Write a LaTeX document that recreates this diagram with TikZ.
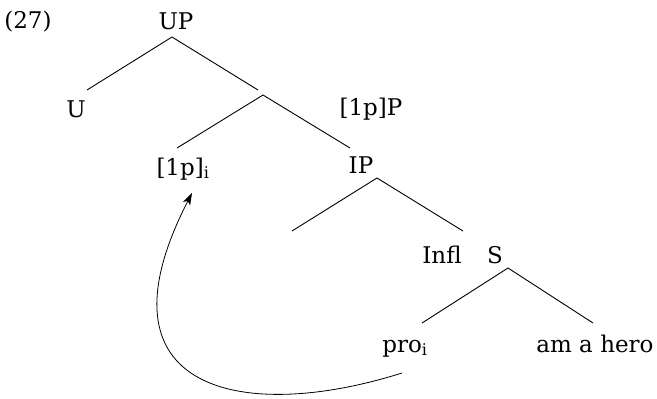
\documentclass[tikz,border=0pt]{standalone}
\usepackage{fontspec}
\setmainfont{DejaVu Serif}
\usetikzlibrary{arrows.meta}

\begin{document}
\begin{tikzpicture}[x=1pt,y=-1pt,>={Stealth[length=12pt,width=8pt,inset=3pt]},
  lbl/.style={anchor=base,inner sep=0pt,font=\fontsize{23}{27}\selectfont},
  br/.style={line width=0.9pt}]
\useasboundingbox (0,0) rectangle (657,399);
% labels
\node[lbl] (ex) at (28,28) {(27)};
\node[lbl] (up) at (176,29) {UP};
\node[lbl] (u) at (76,117) {U};
\node[lbl] (onepP) at (371,115) {[1p]P};
\node[lbl] (onep) at (183,175) {[1p]\textsubscript{i}};
\node[lbl] (ip) at (361,173) {IP};
\node[lbl] (infl) at (442,263) {Infl};
\node[lbl] (s) at (495,263) {S};
\node[lbl] (pro) at (405,352) {pro\textsubscript{i}};
\node[lbl] (hero) at (595,352) {am a hero};
% branch ends
\coordinate (up-b) at (172,37);
\coordinate (u-t) at (87,90);
\coordinate (x-t) at (258,90);
\coordinate (x-b) at (263,95);
\coordinate (onep-t) at (177,148);
\coordinate (ip-t) at (350,148);
\coordinate (ip-b) at (377,178);
\coordinate (e-t) at (292,231);
\coordinate (infl-t) at (463,231);
\coordinate (s-b) at (508,268);
\coordinate (pro-t) at (422,323);
\coordinate (hero-t) at (593,323);
\draw[br] (u-t) -- (up-b) -- (x-t);
\draw[br] (onep-t) -- (x-b) -- (ip-t);
\draw[br] (e-t) -- (ip-b) -- (infl-t);
\draw[br] (pro-t) -- (s-b) -- (hero-t);
% movement arrow
\coordinate (pro-m) at (402,373);
\coordinate (onep-m) at (192,193);
\draw[->,line width=0.8pt] (pro-m) .. controls +(-158,50) and +(-103,200) .. (onep-m);
\end{tikzpicture}
\end{document}
